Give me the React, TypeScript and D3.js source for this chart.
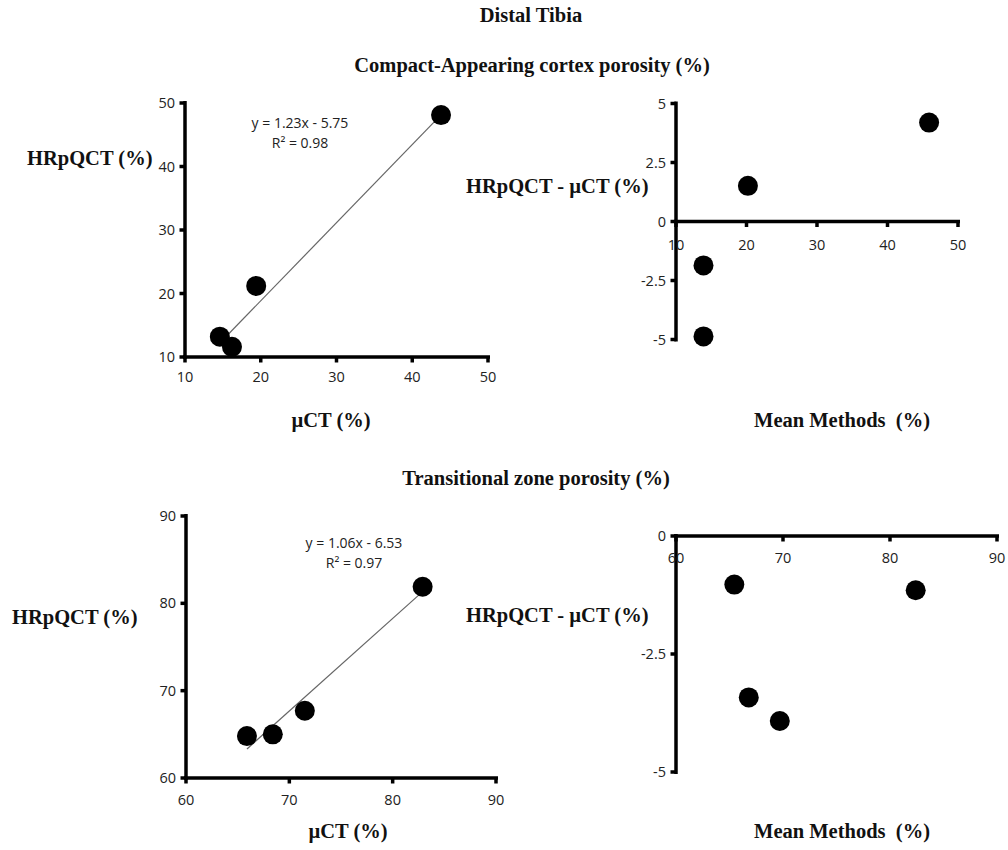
import React from "react";
import * as d3 from "d3";

// ---- Data ----
const title = "Distal Tibia";
const subtitleTop = "Compact-Appearing cortex porosity (%)";
const subtitleBottom = "Transitional zone porosity (%)";

// Compact-appearing cortex: regression panel
const capMicroCT = [43.8, 19.4, 14.6, 16.2];
const capHRpQCT = [48.1, 21.2, 13.2, 11.6];
const capFit = { slope: 1.23, intercept: -5.75, r2: "0.98" };
// Compact-appearing cortex: Bland-Altman panel
const capMean = [45.9, 20.2, 13.9, 13.9];
const capDiff = [4.19, 1.51, -1.86, -4.87];

// Transitional zone: regression panel
const tzMicroCT = [82.9, 71.5, 68.4, 65.9];
const tzHRpQCT = [81.9, 67.7, 65.0, 64.8];
const tzFit = { slope: 1.06, intercept: -6.53, r2: "0.97" };
// Transitional zone: Bland-Altman panel
const tzMean = [65.45, 82.4, 66.8, 69.7];
const tzDiff = [-1.03, -1.15, -3.42, -3.92];

const capXTicks = [10, 20, 30, 40, 50];
const capYTicks = [10, 20, 30, 40, 50];
const capDiffTicks = [5, 2.5, 0, -2.5, -5];
const tzXTicks = [60, 70, 80, 90];
const tzYTicks = [60, 70, 80, 90];
const tzDiffTicks = [0, -2.5, -5];

const SERIF = "'Liberation Serif', 'Times New Roman', serif";
const SANS = "'Open Sans', 'Liberation Sans', sans-serif";
const TICK_COLOR = "#222";
const TICK_SIZE = 14.5;

type PanelProps = {
  xDomain: [number, number];
  yDomain: [number, number];
  xRange: [number, number];
  yRange: [number, number];
  xTicks: number[];
  yTicks: number[];
  xs: number[];
  ys: number[];
  xAxisAt?: number;
  fit?: { slope: number; intercept: number; r2: string };
  eqPos?: [number, number];
  xLabelDy?: number;
};

function Panel(p: PanelProps) {
  const x = d3.scaleLinear().domain(p.xDomain).range(p.xRange);
  const y = d3.scaleLinear().domain(p.yDomain).range(p.yRange);
  const axisY = p.xAxisAt !== undefined ? y(p.xAxisAt) : y(p.yDomain[0]);
  const x0 = x(p.xDomain[0]);
  let fitLine: string | null = null;
  if (p.fit) {
    const xmin = d3.min(p.xs)!;
    const xmax = d3.max(p.xs)!;
    const line = d3
      .line<number>()
      .x((d) => x(d))
      .y((d) => y(p.fit!.slope * d + p.fit!.intercept));
    fitLine = line([xmin, xmax]);
  }
  const yTop = Math.min(...p.yRange);
  const yBot = Math.max(...p.yRange);
  return (
    <g>
      {fitLine && <path d={fitLine} fill="none" stroke="#666" strokeWidth={1.2} />}
      <line x1={x0} x2={x0} y1={yTop - 2} y2={yBot + 2} stroke="#000" strokeWidth={3.5} />
      {p.yTicks.map((t) => (
        <g key={"y" + t}>
          <line x1={x0 - 5.5} x2={x0} y1={y(t)} y2={y(t)} stroke="#000" strokeWidth={3.5} />
          <text
            x={x0 - 10}
            y={y(t)}
            dy="0.35em"
            textAnchor="end"
            fontFamily={SANS}
            fontSize={TICK_SIZE}
            fill={TICK_COLOR}
          >
            {String(t)}
          </text>
        </g>
      ))}
      <line x1={x0 - 2} x2={x(p.xDomain[1]) + 2} y1={axisY} y2={axisY} stroke="#000" strokeWidth={3.5} />
      {p.xTicks.map((t) => (
        <g key={"x" + t}>
          <line x1={x(t)} x2={x(t)} y1={axisY} y2={axisY + 5.5} stroke="#000" strokeWidth={3.5} />
          <text
            x={x(t)}
            y={axisY + (p.xLabelDy ?? 22)}
            dy="0.35em"
            textAnchor="middle"
            fontFamily={SANS}
            fontSize={TICK_SIZE}
            fill={TICK_COLOR}
          >
            {String(t)}
          </text>
        </g>
      ))}
      {p.xs.map((d, i) => (
        <circle key={"p" + i} cx={x(d)} cy={y(p.ys[i])} r={10} fill="#000" />
      ))}
      {p.fit && p.eqPos && (
        <g fontFamily={SANS} fontSize={14} fill={TICK_COLOR} textAnchor="middle">
          <text x={p.eqPos[0]} y={p.eqPos[1]} dy="0.35em">
            {`y = ${p.fit.slope.toFixed(2)}x - ${Math.abs(p.fit.intercept).toFixed(2)}`}
          </text>
          <text x={p.eqPos[0]} y={p.eqPos[1] + 20} dy="0.35em">
            {`R² = ${p.fit.r2}`}
          </text>
        </g>
      )}
    </g>
  );
}

function Label(props: { x: number; y: number; anchor?: string; children: string }) {
  return (
    <text
      x={props.x}
      y={props.y}
      dy="0.35em"
      textAnchor={props.anchor ?? "middle"}
      fontFamily={SERIF}
      fontWeight="bold"
      fontSize={20.5}
      fill="#111"
      style={{ whiteSpace: "pre" }}
    >
      {props.children}
    </text>
  );
}

export default function App() {
  return (
    <svg
      width={1008}
      height={850}
      style={{ position: "absolute", left: 0, top: 0, background: "#fff" }}
    >
      <rect width={1008} height={850} fill="#fff" />
      <Label x={531} y={15}>{title}</Label>
      <Label x={532} y={65}>{subtitleTop}</Label>
      <Label x={536} y={478}>{subtitleBottom}</Label>

      <Panel
        xDomain={[10, 50]}
        yDomain={[10, 50]}
        xRange={[185, 488]}
        yRange={[357, 103]}
        xTicks={capXTicks}
        yTicks={capYTicks}
        xs={capMicroCT}
        ys={capHRpQCT}
        fit={capFit}
        eqPos={[300, 123]}
        xLabelDy={20}
      />
      <Label x={27} y={158} anchor="start">HRpQCT (%)</Label>
      <Label x={331} y={420}>µCT (%)</Label>

      <Panel
        xDomain={[10, 50]}
        yDomain={[-5, 5]}
        xRange={[676, 958]}
        yRange={[339.5, 103.5]}
        xTicks={capXTicks}
        yTicks={capDiffTicks}
        xs={capMean}
        ys={capDiff}
        xAxisAt={0}
        xLabelDy={23}
      />
      <Label x={466} y={186} anchor="start">HRpQCT - µCT (%)</Label>
      <Label x={842} y={420}>Mean Methods  (%)</Label>

      <Panel
        xDomain={[60, 90]}
        yDomain={[60, 90]}
        xRange={[186, 496]}
        yRange={[778, 516]}
        xTicks={tzXTicks}
        yTicks={tzYTicks}
        xs={tzMicroCT}
        ys={tzHRpQCT}
        fit={tzFit}
        eqPos={[354, 543]}
        xLabelDy={22}
      />
      <Label x={12} y={617} anchor="start">HRpQCT (%)</Label>
      <Label x={348} y={831}>µCT (%)</Label>

      <Panel
        xDomain={[60, 90]}
        yDomain={[-5, 0]}
        xRange={[676, 997]}
        yRange={[772, 536]}
        xTicks={tzXTicks}
        yTicks={tzDiffTicks}
        xs={tzMean}
        ys={tzDiff}
        xAxisAt={0}
        xLabelDy={22}
      />
      <Label x={466} y={615} anchor="start">HRpQCT - µCT (%)</Label>
      <Label x={842} y={831}>Mean Methods  (%)</Label>
    </svg>
  );
}
